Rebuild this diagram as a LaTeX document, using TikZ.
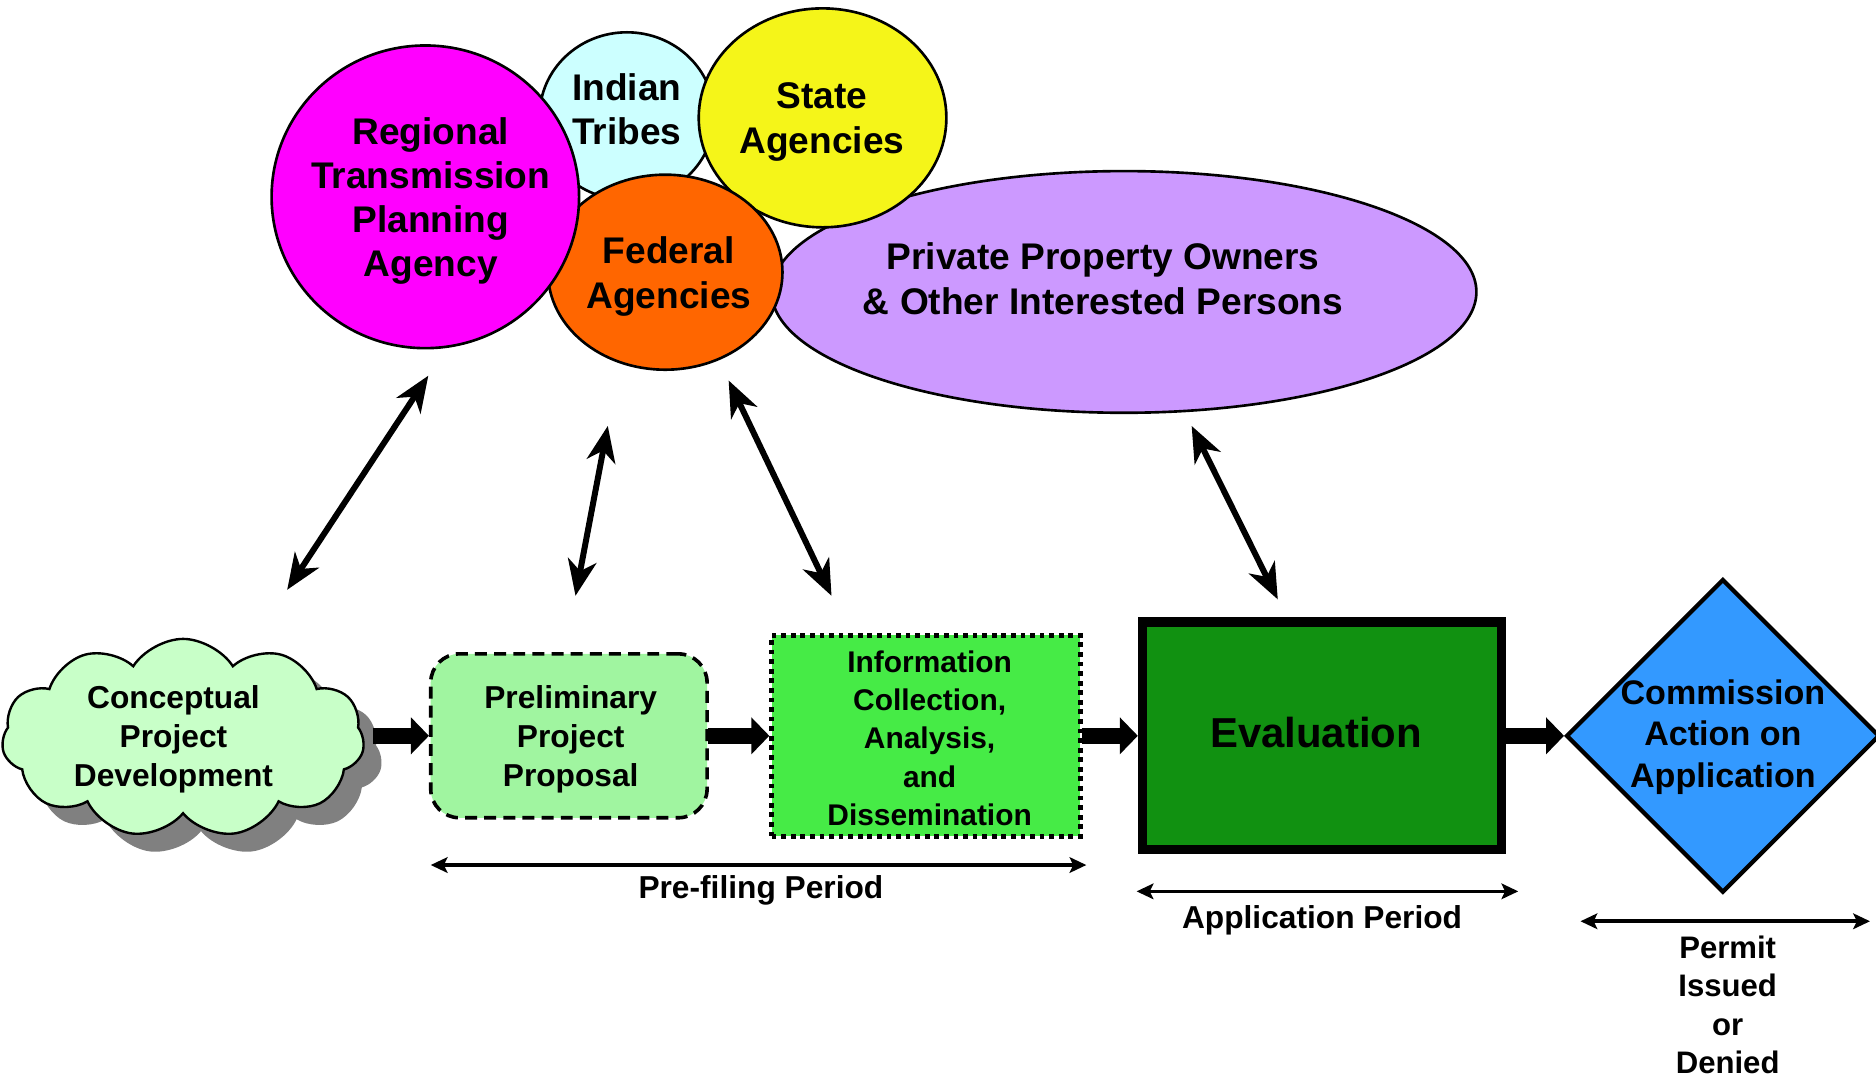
\documentclass[tikz,border=0pt]{standalone}
\usepackage{fontspec}
\setmainfont{Liberation Sans}
\usetikzlibrary{arrows.meta,shapes.geometric,shapes.symbols,shadows}
\definecolor{magc}{RGB}{255,0,255}
\definecolor{cyanc}{RGB}{204,255,255}
\definecolor{yelc}{RGB}{245,245,25}
\definecolor{orac}{RGB}{255,102,0}
\definecolor{lavc}{RGB}{204,153,255}
\definecolor{cloudc}{RGB}{200,255,200}
\definecolor{prelc}{RGB}{160,245,160}
\definecolor{infoc}{RGB}{70,235,70}
\definecolor{evalc}{RGB}{17,145,17}
\definecolor{diac}{RGB}{51,153,255}
\definecolor{shadowc}{RGB}{128,128,128}
\tikzset{
  blob/.style={ellipse, draw=black, line width=2.2pt, inner sep=0pt},
  bigtxt/.style={align=center, font=\bfseries\fontsize{31}{37}\selectfont, inner sep=0pt},
  midtxt/.style={align=center, font=\bfseries\fontsize{26.5}{32.5}\selectfont, inner sep=0pt},
  dbl/.style={line width=5pt, {Stealth[length=30pt,width=24pt,inset=9pt]}-{Stealth[length=30pt,width=24pt,inset=9pt]}},
  flow/.style={line width=13pt, -{Triangle[length=15pt,width=30pt]}, shorten <=-1pt},
  period/.style={line width=3pt, {Stealth[length=14pt,width=13pt,inset=3pt]}-{Stealth[length=14pt,width=13pt,inset=3pt]}},
}
\begin{document}
\begin{tikzpicture}[x=1pt,y=-1pt]
\useasboundingbox (0,0) rectangle (1568,900);
% top stakeholder blobs
\node[blob, fill=lavc, minimum width=589pt, minimum height=202pt] (priv) at (939.5,244) {};
\node[blob, fill=cyanc, minimum width=146pt, minimum height=140pt] (ind) at (524,97) {};
\node[blob, fill=yelc, minimum width=207pt, minimum height=183pt] (state) at (687.5,98.5) {};
\node[blob, fill=orac, minimum width=196pt, minimum height=163pt] (fed) at (556,227.5) {};
\node[blob, fill=magc, minimum width=257pt, minimum height=253pt] (reg) at (355.5,164.5) {};
\node[bigtxt] (regt) at (360,168) {Regional\\Transmission\\Planning\\Agency};
\node[bigtxt] (indt) at (524,91) {Indian\\Tribes};
\node[bigtxt] (statet) at (687,102) {State\\Agencies};
\node[bigtxt] (fedt) at (559,231) {Federal\\Agencies};
\node[bigtxt] (privt) at (922,233) {Private Property Owners\\\& Other Interested Persons};
% double arrows
\coordinate (a1b) at (240,493); \coordinate (a1t) at (358,314);
\coordinate (a2b) at (481,498); \coordinate (a2t) at (508,356);
\coordinate (a3b) at (695,498); \coordinate (a3t) at (609,318);
\coordinate (a4b) at (1068,501); \coordinate (a4t) at (996,356);
\draw[dbl] (a1b) -- (a1t);
\draw[dbl] (a2b) -- (a2t);
\draw[dbl] (a3b) -- (a3t);
\draw[dbl] (a4b) -- (a4t);
% process row
\node[cloud, cloud puffs=11, cloud puff arc=115, aspect=1.85, minimum width=303pt, minimum height=166pt, draw=black, line width=2pt, fill=cloudc, inner sep=0pt,
  drop shadow={shadow xshift=15pt, shadow yshift=-15pt, fill=shadowc, opacity=1}] (cloud) at (153,617) {};
\node[midtxt] (cloudt) at (145,618) {Conceptual\\Project\\Development};
\node[draw=black, line width=3pt, dash pattern=on 10pt off 6pt, rounded corners=24pt, fill=prelc, minimum width=231pt, minimum height=137pt] (prel) at (475.5,615) {};
\node[midtxt] (prelt) at (477,618) {Preliminary\\Project\\Proposal};
\node[draw=black, line width=4pt, dash pattern=on 4pt off 4pt, fill=infoc, minimum width=258pt, minimum height=168pt] (info) at (774,615) {};
\node[align=center, font=\bfseries\fontsize{25}{32}\selectfont, inner sep=0pt] (infot) at (777,617) {Information\\Collection,\\Analysis,\\and\\Dissemination};
\node[draw=black, line width=8pt, fill=evalc, minimum width=300pt, minimum height=190pt] (eval) at (1105,615) {};
\node[font=\bfseries\fontsize{35}{40}\selectfont, inner sep=0pt] (evalt) at (1100,612) {Evaluation};
\node[diamond, draw=black, line width=3.5pt, fill=diac, minimum width=262pt, minimum height=262pt, inner sep=0pt, aspect=1] (dia) at (1440,615) {};
\node[align=center, font=\bfseries\fontsize{28.5}{34.5}\selectfont, inner sep=0pt] (diat) at (1440,616) {Commission\\Action on\\Application};
% flow arrows
\draw[flow] (prel.west -| cloud.east) ++(8pt,0) coordinate (c1) -- (prel.west);
\draw[flow] (prel.east) -- (info.west);
\draw[flow] (info.east) -- (eval.west);
\draw[flow] (eval.east) -- (dia.west);
% periods
\coordinate (p1l) at (360,723); \coordinate (p1r) at (908,723);
\draw[period] (p1l) -- (p1r);
\node[midtxt] (p1t) at (636,744) {Pre-filing Period};
\coordinate (p2l) at (950,745); \coordinate (p2r) at (1269,745);
\draw[period] (p2l) -- (p2r);
\node[midtxt] (p2t) at (1105,769) {Application Period};
\coordinate (p3l) at (1321,770); \coordinate (p3r) at (1563,770);
\draw[period] (p3l) -- (p3r);
\node[align=center, font=\bfseries\fontsize{26}{32}\selectfont, inner sep=0pt] (p3t) at (1444,840) {Permit\\Issued\\or\\Denied};
\end{tikzpicture}
\end{document}
